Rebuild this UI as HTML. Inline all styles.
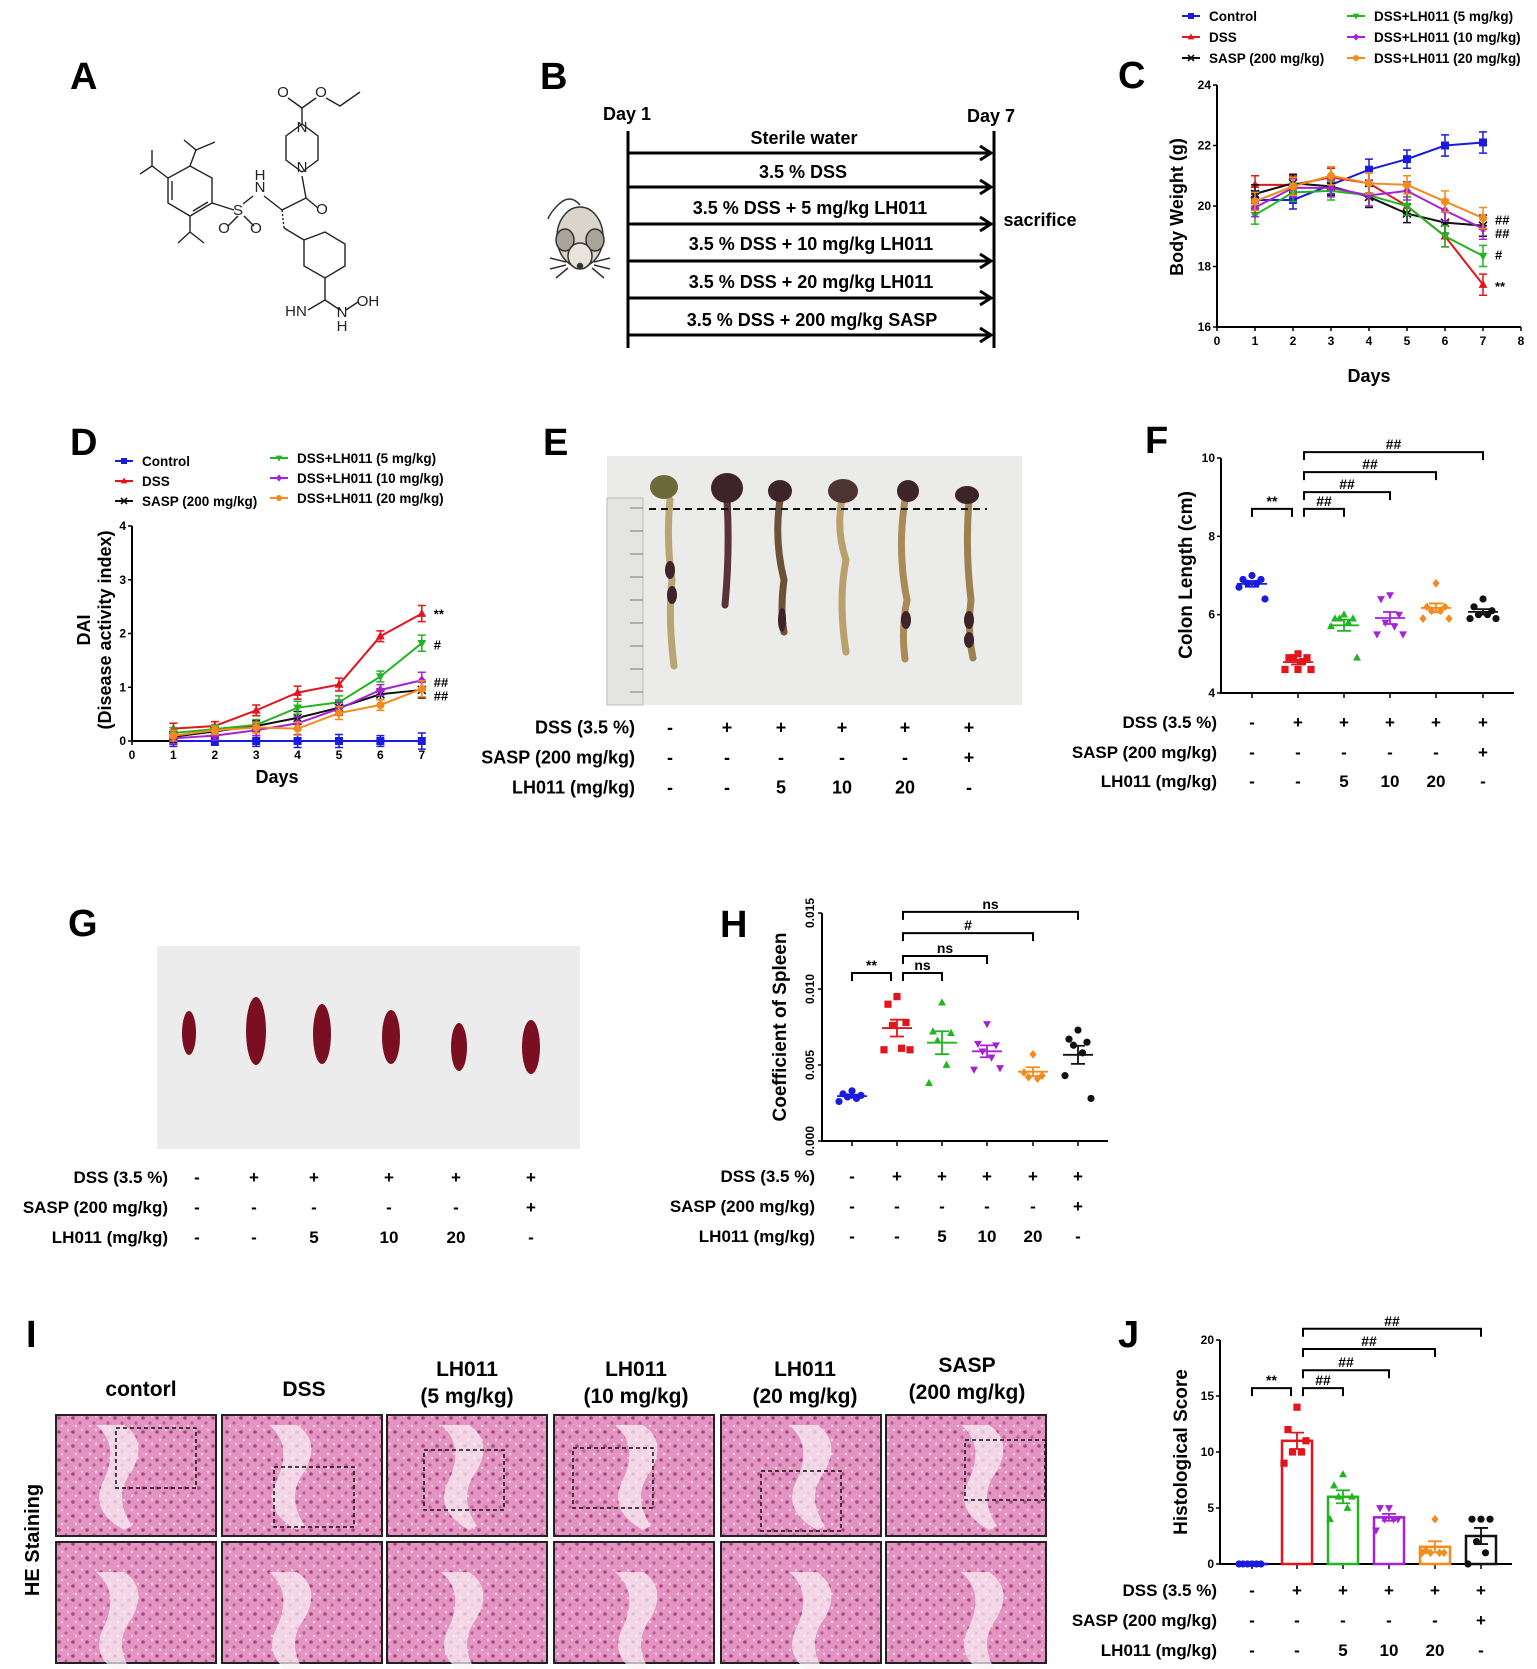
<!DOCTYPE html>
<html><head><meta charset="utf-8"><title>LH011 DSS colitis figure</title>
<style>
html,body{margin:0;padding:0;background:#fff;}
svg{display:block;font-family:"Liberation Sans",Arial,sans-serif;font-weight:bold;}
.nar{font-family:"Liberation Sans Narrow","Liberation Sans",sans-serif;}
</style></head>
<body>
<svg id="fig" xmlns="http://www.w3.org/2000/svg" width="1537" height="1669" viewBox="0 0 1537 1669">
<defs>
<pattern id="tissue" width="14" height="14" patternUnits="userSpaceOnUse">
<rect width="14" height="14" fill="#e394c0"/>
<circle cx="3" cy="4" r="1.8" fill="#a8468a"/><circle cx="10" cy="9" r="1.6" fill="#bb5d9c"/>
<circle cx="6" cy="12" r="1.2" fill="#f6d2e4"/><circle cx="12" cy="2" r="1.2" fill="#f4cde0"/>
</pattern>
</defs>

<g font-size="38">
<text x="70" y="89">A</text>
<text x="540" y="89">B</text>
<text x="1118" y="88">C</text>
<text x="70" y="455">D</text>
<text x="543" y="455">E</text>
<text x="1145" y="453">F</text>
<text x="68" y="936">G</text>
<text x="720" y="937">H</text>
<text x="26" y="1347">I</text>
<text x="1118" y="1347">J</text>
</g>

<g stroke="#222" stroke-width="1.4" fill="none">
<polygon points="190,166 212,178 212,203 190,216 168,203 168,178"/>
<line x1="172" y1="181" x2="172" y2="200"/><line x1="193" y1="211" x2="208" y2="202"/>
<polyline points="168,178 152,166 140,174"/><line x1="152" y1="166" x2="152" y2="150"/>
<polyline points="190,166 196,150 184,140"/><line x1="196" y1="150" x2="215" y2="142"/>
<polyline points="190,216 190,232 178,243"/><line x1="190" y1="232" x2="204" y2="243"/>
<line x1="212" y1="203" x2="234" y2="210"/>
<line x1="238" y1="216" x2="228" y2="226"/><line x1="244" y1="216" x2="254" y2="226"/>
<line x1="243" y1="204" x2="253" y2="196"/>
<line x1="264" y1="196" x2="282" y2="210"/>
<line x1="282" y1="210" x2="306" y2="198"/><line x1="306" y1="198" x2="318" y2="208"/>
<line x1="306" y1="198" x2="302" y2="176"/>
<polygon points="302,172 318,160 318,136 302,124 286,136 286,160"/>
<line x1="302" y1="124" x2="302" y2="108"/><line x1="302" y1="108" x2="288" y2="98"/><line x1="302" y1="108" x2="316" y2="98"/>
<polyline points="326,98 340,106 360,92"/>
<line x1="282" y1="210" x2="284" y2="228" stroke-dasharray="2,2"/>
<line x1="284" y1="228" x2="304" y2="240"/>
<polygon points="304,240 325,232 345,244 345,266 325,278 304,266"/>
<line x1="325" y1="278" x2="325" y2="300"/><line x1="325" y1="300" x2="308" y2="310"/><line x1="325" y1="300" x2="340" y2="310"/>
<line x1="346" y1="310" x2="358" y2="302"/>
</g>
<g font-size="15" font-weight="normal" fill="#222" text-anchor="middle">
<text x="238" y="215">S</text><text x="224" y="233">O</text><text x="256" y="233">O</text>
<text x="260" y="192">N</text><text x="260" y="180">H</text>
<text x="322" y="214">O</text><text x="302" y="172">N</text><text x="302" y="132">N</text>
<text x="283" y="97">O</text><text x="321" y="97">O</text>
<text x="296" y="316">HN</text><text x="342" y="317">N</text><text x="342" y="331">H</text><text x="368" y="306">OH</text>
</g>

<g>
<line x1="628" y1="131" x2="628" y2="348" stroke="#000" stroke-width="3"/>
<line x1="994" y1="131" x2="994" y2="348" stroke="#000" stroke-width="3"/>
<g stroke="#000" stroke-width="3" fill="none">
<line x1="628" y1="153" x2="990" y2="153"/><polyline points="980,146 991,153 980,160"/>
<line x1="628" y1="187" x2="990" y2="187"/><polyline points="980,180 991,187 980,194"/>
<line x1="628" y1="224" x2="990" y2="224"/><polyline points="980,217 991,224 980,231"/>
<line x1="628" y1="261" x2="990" y2="261"/><polyline points="980,254 991,261 980,268"/>
<line x1="628" y1="298" x2="990" y2="298"/><polyline points="980,291 991,298 980,305"/>
<line x1="628" y1="335" x2="990" y2="335"/><polyline points="980,328 991,335 980,342"/>
</g>
<g font-size="18" text-anchor="middle" class="nar">
<text x="627" y="120">Day 1</text>
<text x="991" y="122">Day 7</text>
<text x="804" y="144">Sterile water</text>
<text x="803" y="178">3.5 % DSS</text>
<text x="810" y="214">3.5 % DSS + 5 mg/kg LH011</text>
<text x="811" y="250">3.5 % DSS + 10 mg/kg LH011</text>
<text x="811" y="288">3.5 % DSS + 20 mg/kg LH011</text>
<text x="812" y="326">3.5 % DSS + 200 mg/kg SASP</text>
<text x="1040" y="226">sacrifice</text>
</g>
<g stroke="#333" stroke-width="1.5">
<path d="M580,205 q-10,-12 -22,0 q-8,8 -10,14" fill="none"/>
<ellipse cx="580" cy="237" rx="23" ry="30" fill="#d9d5cc"/>
<ellipse cx="565" cy="240" rx="9" ry="11" fill="#aaa49a"/><ellipse cx="595" cy="240" rx="9" ry="11" fill="#aaa49a"/>
<ellipse cx="580" cy="256" rx="12" ry="13" fill="#e8e4dc"/>
<circle cx="580" cy="266" r="2.5" fill="#333"/>
<path d="M566,262 l-16,-4 M566,265 l-16,4 M568,268 l-12,10 M594,262 l16,-4 M594,265 l16,4 M592,268 l12,10" fill="none"/>
</g>
</g>

<g>
<rect x="607" y="456" width="415" height="249" fill="#ebebea"/>
<rect x="607" y="498" width="36" height="207" fill="#e4e4e2" stroke="#bbb"/>
<g stroke="#777" stroke-width="1">
<line x1="630" y1="508" x2="643" y2="508"/><line x1="630" y1="531" x2="643" y2="531"/><line x1="630" y1="554" x2="643" y2="554"/>
<line x1="630" y1="577" x2="643" y2="577"/><line x1="630" y1="600" x2="643" y2="600"/><line x1="630" y1="623" x2="643" y2="623"/>
<line x1="630" y1="646" x2="643" y2="646"/><line x1="630" y1="669" x2="643" y2="669"/><line x1="630" y1="692" x2="643" y2="692"/>
</g>
<g fill="none" stroke-linecap="round">
<path d="M670,500 q-4,40 2,80 q-4,40 2,86" stroke="#b8a574" stroke-width="7"/>
<path d="M727,500 q3,50 -2,105" stroke="#5a3238" stroke-width="7"/>
<path d="M780,500 q-6,40 4,80 q-4,30 0,52" stroke="#6e5038" stroke-width="7"/>
<path d="M842,500 q-6,30 4,60 q-8,40 0,92" stroke="#b9a06c" stroke-width="7"/>
<path d="M905,500 q-8,50 2,100 q-6,30 -2,59" stroke="#a88b57" stroke-width="7"/>
<path d="M969,500 q-4,50 2,100 q-4,30 2,58" stroke="#9c8150" stroke-width="7"/>
</g>
<g fill="#3d2428">
<ellipse cx="664" cy="487" rx="14" ry="12" fill="#6c6a3b"/><ellipse cx="727" cy="488" rx="16" ry="15"/>
<ellipse cx="780" cy="491" rx="12" ry="11"/><ellipse cx="843" cy="491" rx="15" ry="12" fill="#4d3430"/>
<ellipse cx="908" cy="491" rx="11" ry="11"/><ellipse cx="967" cy="495" rx="12" ry="9"/>
<ellipse cx="670" cy="570" rx="5" ry="9"/><ellipse cx="672" cy="595" rx="5" ry="9"/>
<ellipse cx="782" cy="620" rx="4" ry="12"/><ellipse cx="906" cy="620" rx="5" ry="9"/>
<ellipse cx="969" cy="620" rx="5" ry="9"/><ellipse cx="969" cy="640" rx="5" ry="8"/>
</g>
<line x1="649" y1="509" x2="987" y2="509" stroke="#111" stroke-width="2" stroke-dasharray="7,5"/>
</g>

<g>
<rect x="157" y="946" width="423" height="203" fill="#ececec"/>
<g fill="#7a0f22">
<ellipse cx="189" cy="1033" rx="7" ry="22"/>
<ellipse cx="256" cy="1031" rx="10" ry="34"/>
<ellipse cx="322" cy="1034" rx="9" ry="30"/>
<ellipse cx="391" cy="1037" rx="9" ry="27"/>
<ellipse cx="459" cy="1047" rx="8" ry="24"/>
<ellipse cx="531" cy="1047" rx="9" ry="27"/>
</g>
</g>

<g id="histo">
<text x="32" y="1540" font-size="20" text-anchor="middle" transform="rotate(-90 32 1540)" dy="7">HE Staining</text>
<g font-size="21" text-anchor="middle" class="nar">
<text x="141" y="1396">contorl</text>
<text x="304" y="1396">DSS</text>
<text x="467" y="1376">LH011<tspan x="467" dy="27">(5 mg/kg)</tspan></text>
<text x="636" y="1376">LH011<tspan x="636" dy="27">(10 mg/kg)</tspan></text>
<text x="805" y="1376">LH011<tspan x="805" dy="27">(20 mg/kg)</tspan></text>
<text x="967" y="1372">SASP<tspan x="967" dy="27">(200 mg/kg)</tspan></text>
</g>
</g>

<g id="charts"></g>
</svg>

<script>
const days = [1, 2, 3, 4, 5, 6, 7];
const cControl = [20.2, 20.2, 20.7, 21.2, 21.55, 22.0, 22.1];
const cDSS = [20.7, 20.7, 20.95, 20.75, 20.0, 19.0, 17.4];
const cSASP = [20.4, 20.75, 20.65, 20.3, 19.75, 19.45, 19.35];
const cLH5 = [19.7, 20.45, 20.5, 20.35, 20.0, 19.0, 18.35];
const cLH10 = [19.95, 20.6, 20.6, 20.35, 20.5, 19.85, 19.25];
const cLH20 = [20.15, 20.65, 21.0, 20.75, 20.7, 20.15, 19.6];
const cErr = [0.3, 0.3, 0.3, 0.35, 0.3, 0.35, 0.35];
const cYTicks = [16, 18, 20, 22, 24];
const cXTicks = [0, 1, 2, 3, 4, 5, 6, 7, 8];
const cSig = ["##", "##", "#", "**"];
const cSigVal = [19.55, 19.1, 18.4, 17.35];
const dControl = [0, 0, 0, 0, 0, 0, 0];
const dDSS = [0.23, 0.28, 0.57, 0.9, 1.05, 1.95, 2.37];
const dSASP = [0.08, 0.18, 0.28, 0.43, 0.62, 0.87, 0.95];
const dLH5 = [0.15, 0.22, 0.3, 0.62, 0.72, 1.2, 1.82];
const dLH10 = [0.05, 0.1, 0.2, 0.33, 0.6, 0.95, 1.13];
const dLH20 = [0.1, 0.2, 0.25, 0.23, 0.52, 0.67, 0.97];
const dErr = [0.1, 0.08, 0.1, 0.12, 0.12, 0.1, 0.15];
const dYTicks = [0, 1, 2, 3, 4];
const dXTicks = [0, 1, 2, 3, 4, 5, 6, 7];
const dSig = ["**", "#", "##", "##"];
const dSigVal = [2.37, 1.8, 1.1, 0.85];
const fControl = [7.0, 6.9, 6.9, 6.8, 6.8, 6.7, 6.4];
const fDSS = [5.0, 4.9, 4.9, 4.9, 4.8, 4.6, 4.6, 4.6];
const fLH5 = [6.0, 5.9, 5.9, 5.9, 5.8, 5.7, 4.9];
const fLH10 = [6.5, 6.4, 6.0, 5.8, 5.7, 5.5, 5.5];
const fLH20 = [6.8, 6.2, 6.2, 6.1, 6.1, 5.9, 5.9];
const fSASP = [6.4, 6.2, 6.1, 6.0, 6.0, 5.9, 5.9];
const fYTicks = [4, 6, 8, 10];
const fBrFrom = [0, 1, 1, 1, 1];
const fBrTo = [1, 2, 3, 4, 5];
const fBrVal = [8.7, 8.7, 9.13, 9.64, 10.15];
const fBrLabel = ["**", "##", "##", "##", "##"];
const hControl = [0.0033, 0.0031, 0.0030, 0.0029, 0.0028, 0.0026];
const hDSS = [0.0095, 0.0090, 0.0078, 0.0076, 0.0061, 0.0060, 0.0060];
const hLH5 = [0.0091, 0.0072, 0.0071, 0.0066, 0.0050, 0.0038];
const hLH10 = [0.0077, 0.0064, 0.0063, 0.0059, 0.0055, 0.0047, 0.0048];
const hLH20 = [0.0057, 0.0045, 0.0043, 0.0042, 0.0041];
const hSASP = [0.0073, 0.0067, 0.0065, 0.0063, 0.0058, 0.0043, 0.0028];
const hYTicks = [0, 0.005, 0.010, 0.015];
const hBrFrom = [0, 1, 1, 1, 1];
const hBrTo = [1, 2, 3, 4, 5];
const hBrVal = [0.01105, 0.01105, 0.01217, 0.01368, 0.01507];
const hBrLabel = ["**", "ns", "ns", "#", "ns"];
const jControl = [0, 0, 0, 0, 0, 0];
const jDSS = [14, 12, 11, 10, 10, 9];
const jLH5 = [8, 7, 6, 6, 5, 4];
const jLH10 = [5, 5, 4, 4, 4, 3];
const jLH20 = [4, 1.2, 1, 1, 1, 1];
const jSASP = [4, 4, 4, 2, 1, 0];
const jYTicks = [0, 5, 10, 15, 20];
const jBrFrom = [0, 1, 1, 1, 1];
const jBrTo = [1, 2, 3, 4, 5];
const jBrVal = [15.7, 15.7, 17.3, 19.2, 21.0];
const jBrLabel = ["**", "##", "##", "##", "##"];
const legendNames = ["Control", "DSS", "SASP (200 mg/kg)", "DSS+LH011 (5 mg/kg)", "DSS+LH011 (10 mg/kg)", "DSS+LH011 (20 mg/kg)"];
const rowLabels = ["DSS (3.5 %)", "SASP (200 mg/kg)", "LH011 (mg/kg)"];
const rowDSS = ["-", "+", "+", "+", "+", "+"];
const rowSASP = ["-", "-", "-", "-", "-", "+"];
const rowLH = ["-", "-", "5", "10", "20", "-"];

const NS = "http://www.w3.org/2000/svg";
const root = document.getElementById("charts");
const COL = {blue:"#1b1be0", red:"#e3141c", black:"#111", green:"#22b422", purple:"#a622d6", orange:"#f28a1c"};
const JIT = [0, -9, 9, -4.5, 4.5, -13, 13, 0];
function el(tag, attrs, parent) {
  const e = document.createElementNS(NS, tag);
  for (const k in attrs) e.setAttribute(k, attrs[k]);
  (parent || root).appendChild(e);
  return e;
}
function txt(parent, x, y, s, size, anchor, extra) {
  const t = el("text", Object.assign({x: x, y: y, "font-size": size, "text-anchor": anchor || "middle"}, extra || {}), parent);
  t.textContent = s;
  return t;
}
function marker(g, shape, x, y, s, color) {
  let e;
  if (shape === "square") e = el("rect", {x: x - s, y: y - s, width: 2 * s, height: 2 * s, fill: color}, g);
  else if (shape === "circle") e = el("circle", {cx: x, cy: y, r: s, fill: color}, g);
  else if (shape === "tri") e = el("polygon", {points: `${x},${y - s * 1.2} ${x - s * 1.1},${y + s * 0.8} ${x + s * 1.1},${y + s * 0.8}`, fill: color}, g);
  else if (shape === "dtri") e = el("polygon", {points: `${x},${y + s * 1.2} ${x - s * 1.1},${y - s * 0.8} ${x + s * 1.1},${y - s * 0.8}`, fill: color}, g);
  else if (shape === "diamond") e = el("polygon", {points: `${x},${y - s * 1.2} ${x + s},${y} ${x},${y + s * 1.2} ${x - s},${y}`, fill: color}, g);
  else e = el("path", {d: `M${x - s},${y - s}L${x + s},${y + s}M${x - s},${y + s}L${x + s},${y - s}M${x - s},${y}L${x + s},${y}`, stroke: color, "stroke-width": 1.6, fill: "none"}, g);
  
  
  return e;
}
function table(name, rightX, cols, ys, size) {
  const g = el("g", {}, root);
  
  
  const rows = [rowDSS, rowSASP, rowLH];
  rows.forEach((r, ri) => {
    const l = txt(g, rightX, ys[ri] + size * 0.36, rowLabels[ri], size, "end");
    
    
    r.forEach((v, ci) => {
      const t = txt(g, cols[ci], ys[ri] + size * 0.36, v, size, "middle");
      
      
    });
  });
}

function lineChart(cfg) {
  const g = el("g", {}, root);
  
  
  const X = v => cfg.x0 + (v - cfg.xmin) / (cfg.xmax - cfg.xmin) * (cfg.x1 - cfg.x0);
  const Y = v => cfg.y0 - (v - cfg.ymin) / (cfg.ymax - cfg.ymin) * (cfg.y0 - cfg.y1);
  const ax = el("path", {d: `M${cfg.x0},${cfg.y1}V${cfg.y0}H${X(cfg.xTicks[cfg.xTicks.length - 1])}`, stroke: "#000", "stroke-width": 2, fill: "none"}, g);
  
  
  cfg.yTicks.forEach(v => {
    el("line", {x1: cfg.x0 - 4, x2: cfg.x0, y1: Y(v), y2: Y(v), stroke: "#000", "stroke-width": 1.5}, g);
    const t = txt(g, cfg.x0 - 6, Y(v) + 4, String(v), 12, "end");
    
    
  });
  cfg.xTicks.forEach(v => {
    el("line", {x1: X(v), x2: X(v), y1: cfg.y0, y2: cfg.y0 + 4, stroke: "#000", "stroke-width": 1.5}, g);
    const t = txt(g, X(v), cfg.y0 + 18, String(v), 12, "middle");
    
    
  });
  cfg.series.forEach(s => {
    const sg = el("g", {}, g);
    
    
    const pl = el("polyline", {points: days.map((d, i) => X(d) + "," + Y(s.vals[i])).join(" "), stroke: s.color, "stroke-width": 2, fill: "none"}, sg);
    
    
    days.forEach((d, i) => {
      const x = X(d), e = cfg.err[i];
      const eb = el("path", {d: `M${x},${Y(s.vals[i] - e)}V${Y(s.vals[i] + e)}M${x - 4},${Y(s.vals[i] - e)}h8M${x - 4},${Y(s.vals[i] + e)}h8`, stroke: s.color, "stroke-width": 1.5, fill: "none"}, sg);
      
      
      marker(sg, s.shape, x, Y(s.vals[i]), 4, s.color);
    });
  });
  cfg.sig.forEach((s, i) => {
    const t = txt(g, X(7) + 12, Y(cfg.sigVal[i]) + 5, s, 13, "start");
    
    
  });
  const yl = el("text", {x: cfg.ylx, y: cfg.yly, "font-size": 18, "text-anchor": "middle", transform: `rotate(-90 ${cfg.ylx} ${cfg.yly})`}, g);
  yl.textContent = cfg.ylabel;
  
  
  if (cfg.ylabel2) {
    const y2 = el("text", {x: cfg.ylx + 21, y: cfg.yly, "font-size": 18, "text-anchor": "middle", transform: `rotate(-90 ${cfg.ylx + 21} ${cfg.yly})`}, g);
    y2.textContent = cfg.ylabel2;
    
    
  }
  const xl = txt(g, cfg.xlx, cfg.xly, "Days", 18, "middle");
  
  
  const lg = el("g", {}, g);
  
  
  cfg.series.forEach((s, i) => {
    const col = i < 3 ? 0 : 1, row = i % 3;
    const lx = cfg.leg[col], ly = cfg.legY[col] + row * cfg.legDy;
    const le = el("g", {}, lg);
    
    
    el("line", {x1: lx, x2: lx + 18, y1: ly, y2: ly, stroke: s.color, "stroke-width": 2}, le);
    marker(le, s.shape, lx + 9, ly, 3, s.color);
    txt(le, lx + 27, ly + 5, legendNames[s.li], 13.5, "start");
  });
}
const seriesDef = (a) => [
  {key: "control", vals: a[0], color: COL.blue, shape: "square", li: 0},
  {key: "dss", vals: a[1], color: COL.red, shape: "tri", li: 1},
  {key: "sasp", vals: a[2], color: COL.black, shape: "x", li: 2},
  {key: "lh5", vals: a[3], color: COL.green, shape: "dtri", li: 3},
  {key: "lh10", vals: a[4], color: COL.purple, shape: "diamond", li: 4},
  {key: "lh20", vals: a[5], color: COL.orange, shape: "circle", li: 5}
];
lineChart({name: "body-weight-chart", x0: 1217, x1: 1521, xmin: 0, xmax: 8, y0: 327, y1: 85, ymin: 16, ymax: 24,
  yTicks: cYTicks, xTicks: cXTicks, err: cErr, sig: cSig, sigVal: cSigVal,
  series: seriesDef([cControl, cDSS, cSASP, cLH5, cLH10, cLH20]),
  ylabel: "Body  Weight  (g)", ylx: 1183, yly: 207, xlx: 1369, xly: 382,
  leg: [1182, 1347], legY: [16, 16], legDy: 21});
lineChart({name: "dai-chart", x0: 132, x1: 421.8, xmin: 0, xmax: 7, y0: 741, y1: 526, ymin: 0, ymax: 4,
  yTicks: dYTicks, xTicks: dXTicks, err: dErr, sig: dSig, sigVal: dSigVal,
  series: seriesDef([dControl, dDSS, dSASP, dLH5, dLH10, dLH20]),
  ylabel: "DAI", ylabel2: "(Disease activity index)", ylx: 90, yly: 630, xlx: 277, xly: 783,
  leg: [115, 270], legY: [461, 458], legDy: 20});

function groupChart(cfg) {
  const g = el("g", {}, root);
  
  
  const Y = v => cfg.y0 - (v - cfg.ymin) / (cfg.ymax - cfg.ymin) * (cfg.y0 - cfg.y1);
  const ax = el("path", {d: `M${cfg.x0},${cfg.y1}V${cfg.y0}H${cfg.xEnd}`, stroke: "#000", "stroke-width": 2, fill: "none"}, g);
  
  
  cfg.yTicks.forEach(v => {
    el("line", {x1: cfg.x0 - 4, x2: cfg.x0, y1: Y(v), y2: Y(v), stroke: "#000", "stroke-width": 1.5}, g);
    let t;
    if (cfg.rotTicks) {
      t = el("text", {x: cfg.x0 - 8, y: Y(v), "font-size": 12, "text-anchor": "middle", transform: `rotate(-90 ${cfg.x0 - 8} ${Y(v)})`}, g);
      t.textContent = v.toFixed(3);
    } else {
      t = txt(g, cfg.x0 - 6, Y(v) + 4, String(v), 12, "end");
    }
    
    
  });
  cfg.cols.forEach(x => el("line", {x1: x, x2: x, y1: cfg.y0, y2: cfg.y0 + 5, stroke: "#000", "stroke-width": 1.5}, g));
  cfg.groups.forEach((pts, gi) => {
    const x = cfg.cols[gi], color = cfg.colors[gi];
    const gg = el("g", {}, g);
    
    
    const n = pts.length, mean = pts.reduce((a, b) => a + b, 0) / n;
    const sd = Math.sqrt(pts.reduce((a, b) => a + (b - mean) * (b - mean), 0) / Math.max(1, n - 1));
    const sem = sd / Math.sqrt(n);
    if (cfg.bars) {
      const b = el("rect", {x: x - 15, y: Y(mean), width: 30, height: Math.max(0.1, cfg.y0 - Y(mean)), fill: "none", stroke: color, "stroke-width": 2.5}, gg);
      
      
    }
    pts.forEach((v, i) => marker(gg, cfg.shapes[gi], x + JIT[i % JIT.length], Y(v), 3.6, color));
    const ml = el("path", {d: `M${x - 15},${Y(mean)}h30M${x},${Y(mean - sem)}V${Y(mean + sem)}M${x - 7},${Y(mean - sem)}h14M${x - 7},${Y(mean + sem)}h14`, stroke: color, "stroke-width": 1.8, fill: "none"}, gg);
    
    
  });
  cfg.brFrom.forEach((f, i) => {
    const xa = cfg.cols[f] + (i > 0 ? 6 : 0), xb = cfg.cols[cfg.brTo[i]] - (i === 0 ? 6 : 0), y = Y(cfg.brVal[i]);
    const bg = el("g", {}, g);
    
    
    el("path", {d: `M${xa},${y + 8}V${y}H${xb}V${y + 8}`, stroke: "#000", "stroke-width": 2, fill: "none"}, bg);
    txt(bg, (xa + xb) / 2, y - 3, cfg.brLabel[i], 14, "middle");
  });
  const yl = el("text", {x: cfg.ylx, y: cfg.yly, "font-size": 19, "text-anchor": "middle", transform: `rotate(-90 ${cfg.ylx} ${cfg.yly})`}, g);
  yl.textContent = cfg.ylabel;
  
  
}
const gKeys = ["control", "dss", "lh5", "lh10", "lh20", "sasp"];
const gColors = [COL.blue, COL.red, COL.green, COL.purple, COL.orange, COL.black];
groupChart({name: "colon-length-chart", x0: 1221, xEnd: 1514, y0: 693, y1: 458, ymin: 4, ymax: 10, yTicks: fYTicks,
  cols: [1252, 1298, 1344, 1390, 1436, 1483], groups: [fControl, fDSS, fLH5, fLH10, fLH20, fSASP], keys: gKeys, colors: gColors,
  shapes: ["circle", "square", "tri", "dtri", "diamond", "circle"],
  brFrom: fBrFrom, brTo: fBrTo, brVal: fBrVal, brLabel: fBrLabel, ylabel: "Colon Length (cm)", ylx: 1192, yly: 575});
groupChart({name: "spleen-coefficient-chart", x0: 822, xEnd: 1108, y0: 1141, y1: 913, ymin: 0, ymax: 0.015, yTicks: hYTicks, rotTicks: true,
  cols: [852, 897, 942, 987, 1033, 1078], groups: [hControl, hDSS, hLH5, hLH10, hLH20, hSASP], keys: gKeys, colors: gColors,
  shapes: ["circle", "square", "tri", "dtri", "diamond", "circle"],
  brFrom: hBrFrom, brTo: hBrTo, brVal: hBrVal, brLabel: hBrLabel, ylabel: "Coefficient of Spleen", ylx: 786, yly: 1027});
groupChart({name: "histological-score-chart", x0: 1220, xEnd: 1512, y0: 1564, y1: 1340, ymin: 0, ymax: 20, yTicks: jYTicks, bars: true,
  cols: [1252, 1297, 1343, 1389, 1435, 1481], groups: [jControl, jDSS, jLH5, jLH10, jLH20, jSASP], keys: gKeys, colors: gColors,
  shapes: ["circle", "square", "tri", "dtri", "diamond", "circle"],
  brFrom: jBrFrom, brTo: jBrTo, brVal: jBrVal, brLabel: jBrLabel, ylabel: "Histological Score", ylx: 1187, yly: 1452});

table("colon-treatment-table", 635, [670, 727, 781, 842, 905, 969], [727, 757, 787], 18);
table("colon-length-treatment-table", 1217, [1252, 1298, 1344, 1390, 1436, 1483], [722, 752, 781], 17);
table("spleen-treatment-table", 168, [197, 254, 314, 389, 456, 531], [1177, 1207, 1237], 17);
table("spleen-coef-treatment-table", 815, [852, 897, 942, 987, 1033, 1078], [1176, 1206, 1236], 17);
table("histology-treatment-table", 1217, [1252, 1297, 1343, 1389, 1435, 1481], [1590, 1620, 1650], 17);

const histo = document.getElementById("histo");
const tileX = [56, 222, 387, 554, 721, 886];
const tileW = 160;
const boxes = [[116, 1428], [274, 1467], [424, 1450], [573, 1448], [761, 1471], [965, 1440]];
tileX.forEach((x, ci) => {
  [1415, 1542].forEach((y, ri) => {
    const r = el("rect", {x: x, y: y, width: tileW, height: 121, fill: "url(#tissue)", stroke: "#222", "stroke-width": 2}, histo);
    
    
    const lumen = el("path", {d: `M${x + 40 + ci * 7},${y + 10 + ri * 20} q24,20 8,55 q-16,30 20,50 l8,-4 q-20,-30 0,-55 q16,-30 -8,-46z`, fill: "#fbf3f6", opacity: 0.7}, histo);
    
    
  });
  const b = el("rect", {x: boxes[ci][0], y: boxes[ci][1], width: 80, height: 60, fill: "none", stroke: "#111", "stroke-width": 1.5, "stroke-dasharray": "4,3"}, histo);
  
  
});
</script>
</body></html>
